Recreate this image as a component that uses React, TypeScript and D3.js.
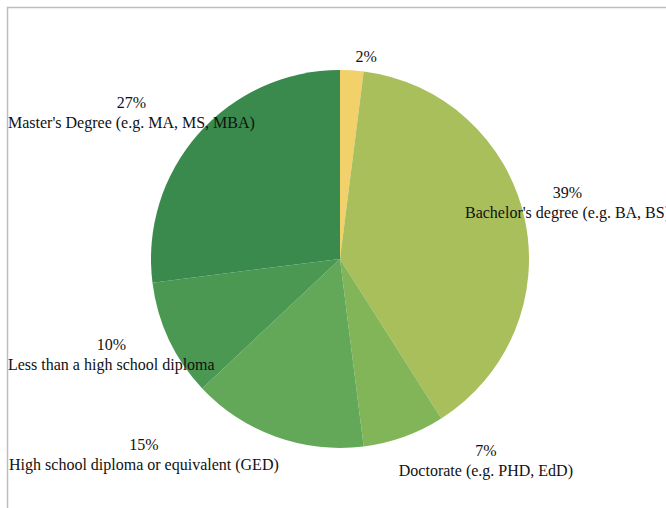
import { useMemo } from "react";
import * as d3 from "d3";

const categories = [
  "",
  "Bachelor's degree (e.g. BA, BS)",
  "Doctorate (e.g. PHD, EdD)",
  "High school diploma or equivalent (GED)",
  "Less than a high school diploma",
  "Master's Degree (e.g. MA, MS, MBA)",
];
const values = [2, 39, 7, 15, 10, 27];
const colors = ["#f2d06a", "#a8bf5b", "#82b458", "#62a858", "#4b9852", "#398a4c"];

// small corrections to the outside-end label placement
const labelNudge: [number, number][] = [
  [13, 6],
  [0, -8],
  [49, -3],
  [-83, -9],
  [0, 3],
  [0, -2],
];

const W = 666;
const H = 508;
const cx = 340;
const cy = 259;
const R = 189;
const FONT = "16px 'Liberation Serif', 'Times New Roman', serif";
const LINE = 20;

const measure = (() => {
  const ctx = document.createElement("canvas").getContext("2d")!;
  ctx.font = FONT;
  return (s: string) => ctx.measureText(s).width;
})();

export default function App() {
  const arcs = useMemo(
    () => d3.pie<number>().sort(null).value((d) => d)(values),
    [],
  );
  const arcGen = d3.arc<d3.PieArcDatum<number>>().innerRadius(0).outerRadius(R);

  const labels = arcs.map((a, i) => {
    const mid = (a.startAngle + a.endAngle) / 2;
    const pct = `${values[i]}%`;
    const lines = categories[i] ? [pct, categories[i]] : [pct];
    const w = Math.max(...lines.map(measure));
    const h = lines.length === 2 ? 38 : 18;
    const px = Math.sin(mid) * (R + 10);
    const py = -Math.cos(mid) * (R + 10);
    let x = cx + px + (Math.sin(mid) * w) / 2;
    const y = cy + py - (Math.cos(mid) * h) / 2;
    x = Math.max(8 + w / 2, Math.min(670 - w / 2, x));
    return {
      lines,
      x: x + labelNudge[i][0],
      y: y - h / 2 + 14 + labelNudge[i][1],
    };
  });

  return (
    <svg
      width={W}
      height={H}
      style={{ position: "absolute", left: 0, top: 0 }}
    >
      <rect x={0} y={0} width={W} height={H} fill="#fff" />
      <rect x={7.5} y={7.5} width={W + 20} height={H + 20} fill="none" stroke="#bdbdbd" strokeWidth={1.5} />
      <g transform={`translate(${cx},${cy})`}>
        {arcs.map((a, i) => (
          <path key={i} d={arcGen(a) ?? ""} fill={colors[i]} />
        ))}
      </g>
      {labels.map((l, i) => (
        <text
          key={i}
          x={l.x}
          y={l.y}
          textAnchor="middle"
          style={{ font: FONT }}
          fill="#111"
        >
          {l.lines.map((s, j) => (
            <tspan key={j} x={l.x} dy={j === 0 ? 0 : LINE}>
              {s}
            </tspan>
          ))}
        </text>
      ))}
    </svg>
  );
}
